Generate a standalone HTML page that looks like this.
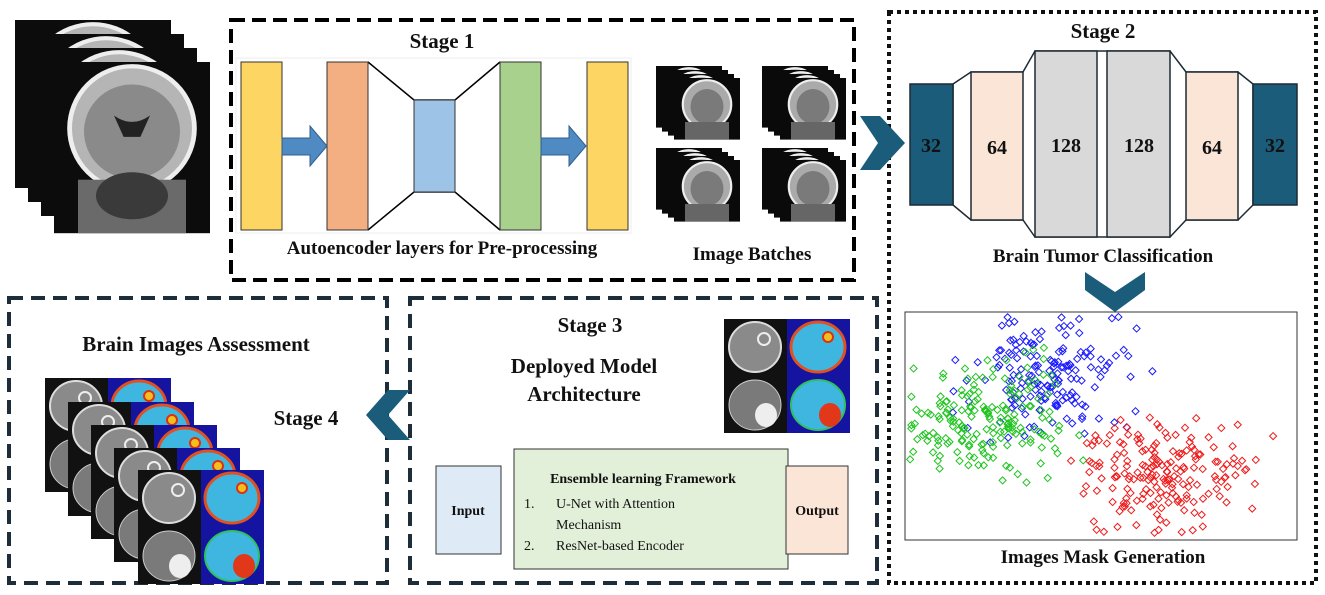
<!DOCTYPE html>
<html><head><meta charset="utf-8"><style>
body{margin:0;background:#fff;}
svg{display:block;}
text{font-family:"Liberation Serif",serif;font-weight:bold;fill:#111;}
</style></head><body>
<svg id="s" width="1325" height="595" viewBox="0 0 1325 595" xmlns="http://www.w3.org/2000/svg">
<defs>
<g id="mri">
 <rect x="0" y="0" width="130" height="160" fill="#0c0c0c"/>
 <ellipse cx="65" cy="62" rx="52" ry="58" fill="#b5b5b5" stroke="#eee" stroke-width="4"/>
 <ellipse cx="65" cy="65" rx="40" ry="44" fill="#8a8a8a"/>
 <path d="M50 50 Q65 62 80 50 L72 70 L58 70Z" fill="#222"/>
 <rect x="20" y="110" width="90" height="50" fill="#6a6a6a"/>
 <ellipse cx="65" cy="125" rx="30" ry="22" fill="#3a3a3a"/>
</g>
<g id="quad">
 <rect x="0" y="0" width="126" height="114" fill="#111"/>
 <ellipse cx="31" cy="28" rx="26" ry="25" fill="#8a8a8a" stroke="#ddd" stroke-width="2"/>
 <circle cx="40" cy="20" r="6" fill="none" stroke="#eee" stroke-width="2"/>
 <rect x="63" y="0" width="63" height="57" fill="#1414a0"/>
 <ellipse cx="94" cy="28" rx="27" ry="25" fill="#3fb6e0" stroke="#e05020" stroke-width="3"/>
 <circle cx="104" cy="18" r="5" fill="#f0c020" stroke="#e03010" stroke-width="2"/>
 <ellipse cx="31" cy="86" rx="26" ry="25" fill="#7a7a7a" stroke="#ccc" stroke-width="1"/>
 <ellipse cx="42" cy="96" rx="11" ry="12" fill="#eee"/>
 <rect x="63" y="57" width="63" height="57" fill="#1414a0"/>
 <ellipse cx="94" cy="86" rx="27" ry="25" fill="#3fb6e0" stroke="#30c060" stroke-width="2"/>
 <ellipse cx="106" cy="96" rx="11" ry="12" fill="#e03818"/>
</g>
<g id="mini">
 <rect x="0" y="0" width="60" height="56" fill="#0a0a0a"/>
 <ellipse cx="30" cy="24" rx="22" ry="22" fill="#aaa" stroke="#eee" stroke-width="2"/>
 <ellipse cx="30" cy="26" rx="15" ry="16" fill="#7a7a7a"/>
 <rect x="10" y="40" width="40" height="16" fill="#666"/>
</g>
</defs>

<!-- left brain stack -->
<use href="#mri" transform="translate(15,20) scale(1.2,1.05)"/>
<use href="#mri" transform="translate(28,34) scale(1.2,1.05)"/>
<use href="#mri" transform="translate(41,48) scale(1.2,1.05)"/>
<use href="#mri" transform="translate(54,62) scale(1.2,1.07)"/>

<!-- Stage 1 box -->
<rect x="231" y="20" width="623" height="260" fill="none" stroke="#000" stroke-width="4" stroke-dasharray="14,7"/>
<text x="442" y="48" font-size="21" text-anchor="middle">Stage 1</text>
<rect x="236" y="58" width="395" height="175" fill="#fff" stroke="#eee"/>
<path d="M368 62 L414 100 L455 100 L500 62 M368 230 L414 192 L455 192 L500 230" stroke="#000" stroke-width="1.5" fill="none"/>
<rect x="241" y="62" width="41" height="168" fill="#fcd563" stroke="#333"/>
<rect x="327" y="62" width="41" height="168" fill="#f3ae82" stroke="#333"/>
<rect x="414" y="100" width="41" height="92" fill="#9dc3e6" stroke="#333"/>
<rect x="500" y="62" width="41" height="168" fill="#a9d18e" stroke="#333"/>
<rect x="587" y="62" width="41" height="168" fill="#fcd563" stroke="#333"/>
<path d="M282 138 L310 138 L310 126 L327 146 L310 166 L310 155 L282 155Z" fill="#4f8ac2" stroke="#2f5f90"/>
<path d="M541 138 L569 138 L569 126 L586 146 L569 166 L569 155 L541 155Z" fill="#4f8ac2" stroke="#2f5f90"/>
<text x="442" y="254" font-size="19" text-anchor="middle">Autoencoder layers for Pre-processing</text>
<!-- image batches -->
<g>
<use href="#mini" transform="translate(656,66) scale(1.1)"/><use href="#mini" transform="translate(662,70) scale(1.1)"/><use href="#mini" transform="translate(668,74) scale(1.1)"/><use href="#mini" transform="translate(674,78) scale(1.1)"/>
<use href="#mini" transform="translate(762,66) scale(1.1)"/><use href="#mini" transform="translate(768,70) scale(1.1)"/><use href="#mini" transform="translate(774,74) scale(1.1)"/><use href="#mini" transform="translate(780,78) scale(1.1)"/>
<use href="#mini" transform="translate(656,148) scale(1.1)"/><use href="#mini" transform="translate(662,152) scale(1.1)"/><use href="#mini" transform="translate(668,156) scale(1.1)"/><use href="#mini" transform="translate(674,160) scale(1.1)"/>
<use href="#mini" transform="translate(762,148) scale(1.1)"/><use href="#mini" transform="translate(768,152) scale(1.1)"/><use href="#mini" transform="translate(774,156) scale(1.1)"/><use href="#mini" transform="translate(780,160) scale(1.1)"/>
</g>
<text x="752" y="260" font-size="19" text-anchor="middle">Image Batches</text>

<!-- Stage 2 box -->
<rect x="889" y="12" width="427" height="571" fill="none" stroke="#111" stroke-width="4" stroke-dasharray="4,4"/>
<text x="1103" y="38" font-size="21" text-anchor="middle">Stage 2</text>
<path d="M860 116 L880 116 L905 143 L880 170 L860 170 L878 143Z" fill="#1a5c7a"/>
<g stroke="#1d2a33" stroke-width="1.5">
<path d="M953 84 L971 72 L1023 72 L1035 51 L1170 51 L1186 72 L1238 72 L1253 84 L1253 205 L1238 220 L1186 220 L1170 237 L1035 237 L1023 220 L971 220 L953 205Z" fill="#fff"/>
<rect x="910" y="84" width="43" height="121" fill="#1a5c7a"/>
<rect x="971" y="72" width="52" height="148" fill="#fbe5d6"/>
<rect x="1035" y="51" width="62" height="186" fill="#d9d9d9"/>
<rect x="1107" y="51" width="63" height="186" fill="#d9d9d9"/>
<rect x="1186" y="72" width="52" height="148" fill="#fbe5d6"/>
<rect x="1253" y="84" width="44" height="121" fill="#1a5c7a"/>
</g>
<g font-size="20" text-anchor="middle"><text x="931" y="152">32</text><text x="997" y="154">64</text><text x="1066" y="152">128</text><text x="1139" y="152">128</text><text x="1212" y="154">64</text><text x="1275" y="152">32</text></g>
<text x="1103" y="262" font-size="19" text-anchor="middle">Brain Tumor Classification</text>
<path d="M1085 272 L1115 292 L1145 272 L1145 290 L1115 312 L1085 290Z" fill="#1a5c7a"/>
<rect x="905" y="312" width="392" height="228" fill="#fff" stroke="#333" stroke-width="1"/>
<g id="pts" fill="none" stroke-width="1"></g>
<text x="1103" y="563" font-size="19" text-anchor="middle">Images Mask Generation</text>

<!-- Stage 4 box -->
<rect x="9" y="298" width="378" height="285" fill="none" stroke="#1d2e3a" stroke-width="4" stroke-dasharray="14,8"/>
<text x="196" y="351" font-size="21" text-anchor="middle">Brain Images Assessment</text>
<text x="306" y="425" font-size="21" text-anchor="middle">Stage 4</text>
<use href="#quad" transform="translate(45,378)"/>
<use href="#quad" transform="translate(68,402)"/>
<use href="#quad" transform="translate(91,425)"/>
<use href="#quad" transform="translate(114,448)"/>
<use href="#quad" transform="translate(138,470)"/>

<!-- Stage 3 box -->
<rect x="410" y="298" width="467" height="285" fill="none" stroke="#1d2e3a" stroke-width="4" stroke-dasharray="14,8"/>
<path d="M388 390 L410 390 L388 415 L410 440 L388 440 L366 415Z" fill="#1a5c7a"/>
<text x="590" y="332" font-size="21" text-anchor="middle">Stage 3</text>
<text x="584" y="373" font-size="21" text-anchor="middle">Deployed Model</text>
<text x="584" y="401" font-size="21" text-anchor="middle">Architecture</text>
<use href="#quad" transform="translate(724,319)"/>
<rect x="436" y="466" width="65" height="88" fill="#deebf7" stroke="#333"/>
<text x="468" y="515" font-size="14" text-anchor="middle">Input</text>
<rect x="514" y="449" width="274" height="120" fill="#e2f0d9" stroke="#333"/>
<text x="643" y="483" font-size="14" text-anchor="middle">Ensemble learning Framework</text>
<g style="font-weight:normal" font-size="14"><text x="524" y="508" style="font-weight:normal">1.</text><text x="556" y="508" style="font-weight:normal">U-Net with Attention</text><text x="556" y="529" style="font-weight:normal">Mechanism</text><text x="524" y="550" style="font-weight:normal">2.</text><text x="556" y="550" style="font-weight:normal">ResNet-based Encoder</text></g>
<rect x="786" y="466" width="62" height="88" fill="#fbe5d6" stroke="#333"/>
<text x="817" y="515" font-size="14" text-anchor="middle">Output</text>
</svg>
<script>
var s=12345;function r(){s=(s*1103515245+12345)%2147483648;return s/2147483648;}
function g(){return (r()+r()+r()-1.5)/0.5;}
var out='';
function cl(cx,cy,sx,sy,n,c){for(var i=0;i<n;i++){var x=cx+g()*sx,y=cy+g()*sy;if(x<910||x>1292||y<317||y>535)continue;out+='<rect x="'+(x-2.5).toFixed(1)+'" y="'+(y-2.5).toFixed(1)+'" width="5" height="5" transform="rotate(45 '+x.toFixed(1)+' '+y.toFixed(1)+')" stroke="'+c+'"/>';}}
cl(1045,375,40,28,170,'#1a1aff');
cl(985,420,40,28,190,'#1fc41f');
cl(1160,470,45,28,190,'#f01a1a');
document.getElementById('pts').innerHTML=out;
</script>
</body></html>
